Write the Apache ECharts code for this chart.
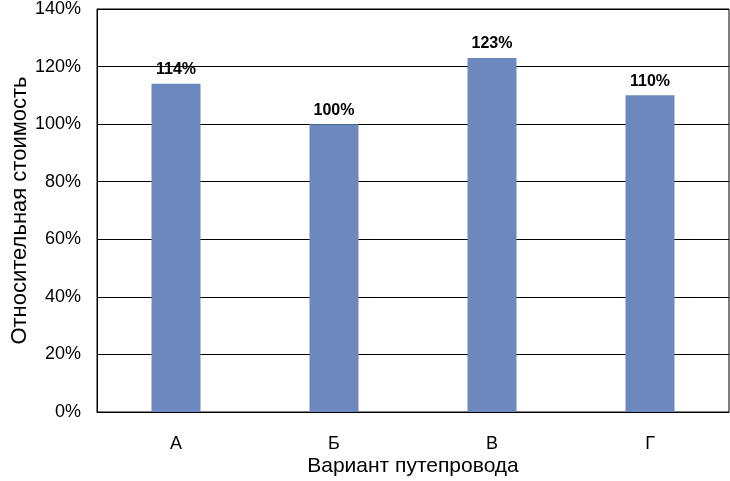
<!DOCTYPE html>
<html>
<head>
<meta charset="utf-8">
<script src="https://cdn.jsdelivr.net/npm/echarts@6/dist/echarts.min.js"></script>
<style>
  html, body { margin: 0; padding: 0; background: #fff; }
  #chart { width: 730px; height: 481px; }
</style>
</head>
<body>
<div id="chart"></div>
<script>
// Варианты путепровода и их относительная стоимость, %
var categories = ['А', 'Б', 'В', 'Г'];
var costValues = [114, 100, 123, 110];
var yTicks = [0, 20, 40, 60, 80, 100, 120, 140];

var FONT = '"Liberation Sans", Arial, sans-serif';

var chart = echarts.init(document.getElementById('chart'), null, { renderer: 'canvas' });
chart.setOption({
  animation: false,
  backgroundColor: '#ffffff',
  grid: {
    left: 97, right: 1, top: 9, bottom: 69,
    outerBoundsMode: 'none',
    containLabel: false,
    show: true, borderColor: '#000', borderWidth: 1
  },
  xAxis: {
    type: 'category',
    data: categories,
    name: 'Вариант путепровода',
    nameLocation: 'middle',
    nameGap: 44,
    nameMoveOverlap: false,
    nameTextStyle: { fontFamily: FONT, fontSize: 21, color: '#000' },
    axisLine: { show: true, lineStyle: { color: '#000', width: 1 } },
    axisTick: { show: false },
    axisLabel: { fontFamily: FONT, fontSize: 18, color: '#000', margin: 23 }
  },
  yAxis: {
    type: 'value',
    min: yTicks[0],
    max: yTicks[yTicks.length - 1],
    interval: 20,
    name: 'Относительная стоимость',
    nameLocation: 'middle',
    nameGap: 66,
    nameMoveOverlap: false,
    nameTextStyle: { fontFamily: FONT, fontSize: 22, color: '#000' },
    axisLine: { show: true, lineStyle: { color: '#000', width: 1 } },
    axisTick: { show: false },
    splitLine: { show: true, lineStyle: { color: '#000', width: 1 } },
    axisLabel: {
      fontFamily: FONT, fontSize: 18, color: '#000', margin: 16,
      padding: [5, 0, 0, 0],
      formatter: function (v) { return v + '%'; }
    }
  },
  series: [{
    type: 'bar',
    data: costValues,
    barWidth: '31%',
    itemStyle: { color: '#6d88be' },
    label: {
      show: true,
      position: 'top',
      distance: 6,
      fontFamily: FONT,
      fontSize: 16,
      fontWeight: 'bold',
      color: '#000',
      formatter: function (p) { return p.value + '%'; }
    }
  }]
});
</script>
</body>
</html>
